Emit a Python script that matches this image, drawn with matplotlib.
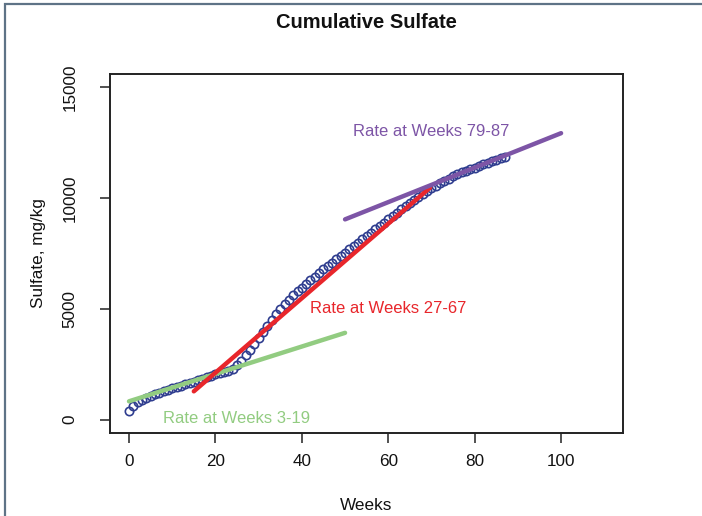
import matplotlib
matplotlib.use("Agg")
import matplotlib.pyplot as plt
from matplotlib.patches import Rectangle

plt.rcParams['font.family'] = ['Liberation Sans', 'DejaVu Sans']

weeks = list(range(0, 88))
sulfate = [375, 600, 780, 900, 1000, 1080, 1150, 1220, 1290, 1350,
           1420, 1480, 1540, 1600, 1660, 1720, 1790, 1850, 1910, 1980,
           2040, 2100, 2150, 2220, 2300, 2450, 2650, 2900, 3150, 3400,
           3680, 3950, 4230, 4500, 4760, 5000, 5220, 5420, 5610, 5790,
           5960, 6130, 6300, 6460, 6620, 6780, 6940, 7090, 7240, 7390,
           7540, 7690, 7840, 7990, 8140, 8290, 8440, 8590, 8740, 8890,
           9040, 9190, 9340, 9490, 9640, 9780, 9920, 10060, 10190, 10320,
           10440, 10560, 10670, 10780, 10880, 10980, 11070, 11160, 11240, 11310,
           11380, 11450, 11520, 11590, 11660, 11730, 11800, 11870]

# fitted rate lines (x endpoints, y endpoints)
green_x = [0, 50]
green_y = [830, 3920]
red_x = [15, 69.7]
red_y = [1280, 10475]
purple_x = [50, 100]
purple_y = [9040, 12930]

labels = ["Rate at Weeks 3-19", "Rate at Weeks 27-67", "Rate at Weeks 79-87"]
label_x = [25, 60, 70]
label_y = [75, 5000, 13000]

x_ticks = [0, 20, 40, 60, 80, 100]
y_ticks = [0, 5000, 10000, 15000]

c_pts = '#2F3D8F'
c_green = '#92CC81'
c_red = '#E8262B'
c_purple = '#7D55A6'

W, H = 702, 516
fig = plt.figure(figsize=(W / 100, H / 100), dpi=100)
fig.patch.set_facecolor('white')

ax = fig.add_axes([110 / W, 1 - 433 / H, (623.3 - 110) / W, (433 - 74) / H])
ax.set_xlim(-4.4, 114.4)
ax.set_ylim(-600, 15600)

ax.plot(weeks, sulfate, linestyle='none', marker='o', markersize=6.0,
        markerfacecolor='none', markeredgecolor=c_pts, markeredgewidth=1.2, zorder=2)
ax.plot(green_x, green_y, color=c_green, lw=3.2, solid_capstyle='round', zorder=3)
ax.plot(red_x, red_y, color=c_red, lw=3.2, solid_capstyle='round', zorder=3)
ax.plot(purple_x, purple_y, color=c_purple, lw=3.2, solid_capstyle='round', zorder=3)

for txt, xx, yy, c in zip(labels, label_x, label_y, [c_green, c_red, c_purple]):
    ax.text(xx, yy, txt, color=c, fontsize=12, ha='center', va='center')

ax.set_xticks(x_ticks)
ax.set_xticklabels([str(v) for v in x_ticks])
ax.set_yticks(y_ticks)
ax.set_yticklabels([str(v) for v in y_ticks], rotation=90, va='center')
ax.tick_params(axis='both', direction='out', length=7.2, width=1.1,
               color='#222222', labelsize=12.3, labelcolor='#111111')
ax.tick_params(axis='x', pad=8)
ax.tick_params(axis='y', pad=16)
for s in ax.spines.values():
    s.set_linewidth(1.4)
    s.set_color('#222222')

fig.text(366.5 / W, 1 - 23 / H, "Cumulative Sulfate", fontsize=14.5,
         fontweight='bold', ha='center', va='center', color='#111111')
fig.text(366.5 / W, 1 - 506 / H, "Weeks", fontsize=12.3, ha='center',
         va='center', color='#111111')
fig.text(39 / W, 1 - 253.5 / H, "Sulfate, mg/kg", fontsize=12.3, rotation=90,
         ha='center', va='center', color='#111111')

# outer frame of the picture
fig.patches.append(Rectangle((5 / W, -0.1), 1.2, 1 - 4 / H + 0.1,
                             transform=fig.transFigure, fill=False,
                             edgecolor='#5E7386', linewidth=1.6))

fig.savefig('out.png', dpi=100)
